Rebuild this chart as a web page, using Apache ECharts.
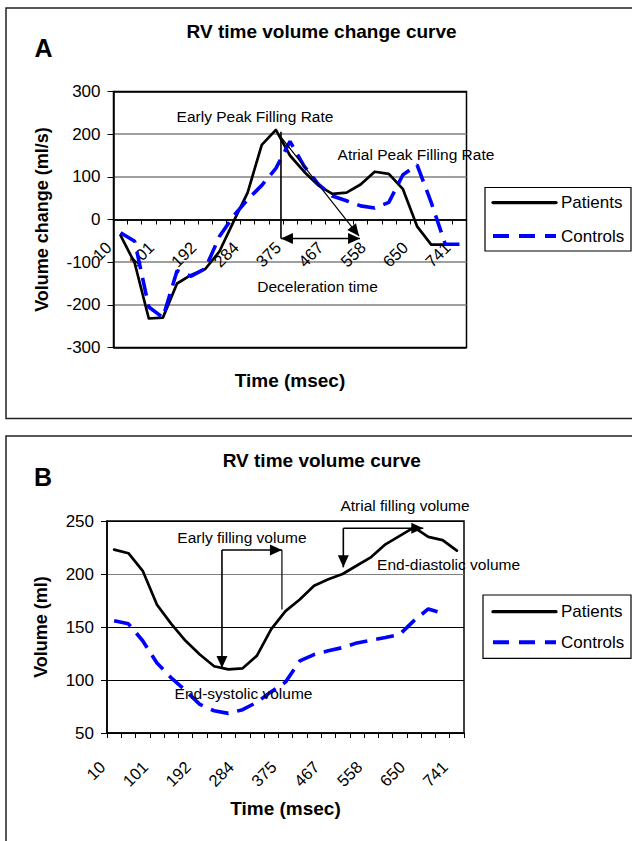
<!DOCTYPE html>
<html><head><meta charset="utf-8">
<script src="https://cdn.jsdelivr.net/npm/echarts@6/dist/echarts.min.js"></script>
<style>html,body{margin:0;padding:0;background:#fff}#c{width:632px;height:841px}</style>
</head><body><div id="c"></div>
<script>
// ---- data ----
const timeLabels = ['10','40','71','101','131','162','192','223','253','284','314','345','375','406','436','467','497','528','558','589','619','650','680','710','741'];
const patientsRate = [-37,-102,-232,-230,-150,-130,-116,-75,-5,63,175,210,150,112,80,60,63,82,112,107,71,-16,-59,-59,null];
const controlsRate = [-31,-51,-205,-230,-120,-133,-115,-40,8,47,80,120,183,125,83,55,44,32,27,40,105,128,40,-58,-58];
const patientsVolume = [223,219.6,203,171,153,137,124,113,110,111,123,148,165,176,189,195,200,208,216,228,236,244,235,232,222];
const controlsVolume = [156,153,137,116,102,90,77,71,68.5,72,79,89,98,118,124,127.5,130.6,135,137.5,140,143,156,167,163,null];
const rateTicks = [-300,-200,-100,0,100,200,300];
const volumeTicks = [50,100,150,200,250];
const seriesNames = ['Patients','Controls'];

const FONT = "'Liberation Sans', Arial, Helvetica, sans-serif";
const chart = echarts.init(document.getElementById('c'), null, {renderer:'svg'});

function xAxisCfg(grid, margin, nameGap){
  return {
    gridIndex: grid, type:'category', data: timeLabels, boundaryGap:true,
    axisLine:{show:true, onZero:false, lineStyle:{color:'#000', width:1.5}},
    axisTick:{show:true, interval:0, length:5, lineStyle:{color:'#000', width:1}},
    axisLabel:{interval:2, rotate:45, margin:margin, padding:[0,17,0,0], fontSize:16.5, color:'#000', fontFamily:FONT},
    splitLine:{show:false},
    name:'Time (msec)', nameLocation:'middle', nameGap:nameGap,
    nameTextStyle:{fontSize:19, fontWeight:'bold', color:'#000', fontFamily:FONT}
  };
}
function yAxisCfg(grid, ticks, name, nameGap, splitColors, splitWidth){
  return {
    gridIndex: grid, type:'value', min:ticks[0], max:ticks[ticks.length-1], interval:ticks[1]-ticks[0],
    axisLine:{show:true, lineStyle:{color:'#000', width:1.5}},
    axisTick:{show:true, length:6, lineStyle:{color:'#000'}},
    axisLabel:{fontSize:17, color:'#000', fontFamily:FONT, margin:13},
    splitLine:{show:true, lineStyle:{color:splitColors, width:splitWidth}},
    name:name, nameLocation:'middle', nameRotate:90, nameGap:nameGap,
    nameTextStyle:{fontSize:18, fontWeight:'bold', color:'#000', fontFamily:FONT}
  };
}
function lineSeries(name, data, xi, yi){
  const isP = name === 'Patients';
  return {
    name, type:'line', data, xAxisIndex:xi, yAxisIndex:yi, symbol:'none', animation:false,
    lineStyle: isP ? {color:'#000', width:2.7, cap:'round', join:'round'} : {color:'#0000ff', width:3.6, type:[18,9], cap:'butt'},
    itemStyle:{color: isP ? '#000' : '#0000ff'}
  };
}
function legendCfg(top, gap){
  return {
    data: [
      {name: seriesNames[0], lineStyle:{width:3.3}},
      {name: seriesNames[1], lineStyle:{width:4, type:[16,10]}}
    ],
    orient:'vertical', left:491, top:top, itemWidth:63, itemHeight:20, itemGap:gap,
    padding:0, selectedMode:false,
    itemStyle:{opacity:0},
    textStyle:{fontSize:17, color:'#000', fontFamily:FONT, lineHeight:20}
  };
}

chart.setOption({
  animation:false,
  backgroundColor:'#fff',
  grid:[
    {left:113.5, top:91.5, width:353, height:256, show:true, borderColor:'#000', borderWidth:1.5, backgroundColor:'transparent'},
    {left:107, top:521, width:357, height:212, show:true, borderColor:'#000', borderWidth:1.5, backgroundColor:'transparent'}
  ],
  xAxis:[ xAxisCfg(0, 13, 151), xAxisCfg(1, 19, 66) ],
  yAxis:[
    yAxisCfg(0, rateTicks, 'Volume change (ml/s)', 63, ['#000','#808080','#808080','#000','#808080','#808080','#000'], 1.5),
    yAxisCfg(1, volumeTicks, 'Volume (ml)', 57, ['#000','#000','#000','#808080','#000'], 1.2)
  ],
  legend:[ legendCfg(192.6, 13.5), legendCfg(601.7, 10.6) ],
  series:[
    lineSeries('Patients', patientsRate, 0, 0),
    lineSeries('Controls', controlsRate, 0, 0),
    lineSeries('Patients', patientsVolume, 1, 1),
    lineSeries('Controls', controlsVolume, 1, 1)
  ]
});

// Panel A: the time axis crosses the value axis at 0 (placed through the value scale)
const zeroY = chart.convertToPixel({yAxisIndex:0}, 0);
const bottomY = chart.convertToPixel({yAxisIndex:0}, rateTicks[0]);
chart.setOption({xAxis:[{offset: -(bottomY - zeroY)}, {}]});

// ---- annotations, anchored in data space (category index, value) ----
const annotationTexts = [
  {g:0, at:[9.52, 241.4], text:'Early Peak Filling Rate'},
  {g:0, at:[20.92, 151.2], text:'Atrial Peak Filling Rate'},
  {g:0, at:[13.95, -156.6], text:'Deceleration time'},
  {g:1, at:[20.37, 264.2], text:'Atrial filling volume'},
  {g:1, at:[8.95, 234.2], text:'Early filling volume'},
  {g:1, at:[23.42, 208.5], text:'End-diastolic volume'},
  {g:1, at:[9.06, 86.8], text:'End-systolic volume'}
];
const annotationLines = [
  {g:0, from:[11.36, 205.8], to:[11.36, -44.5]},
  {g:0, from:[11.36, -44.5], to:[16.96, -44.5], head0:true, head1:true},
  {g:0, from:[11.06, 205.8], to:[16.89, -38.7], head1:true, thin:true},
  {g:1, from:[7.55, 222.6], to:[7.55, 111.3], head1:true},
  {g:1, from:[7.55, 222.6], to:[11.75, 222.6], head1:true},
  {g:1, from:[11.75, 222.6], to:[11.75, 166.5], thin:true},
  {g:1, from:[16.05, 243.1], to:[16.05, 206.3], head1:true},
  {g:1, from:[16.05, 243.1], to:[21.65, 243.1], head1:true}
];

function P(g, xi, v){
  const i0 = Math.floor(xi);
  const a = chart.convertToPixel({gridIndex:g}, [i0, v]);
  const b = chart.convertToPixel({gridIndex:g}, [i0+1, v]);
  return [a[0] + (b[0]-a[0])*(xi-i0), a[1]];
}
function head(tip, from){
  const dx = tip[0]-from[0], dy = tip[1]-from[1];
  const L = Math.hypot(dx,dy) || 1; const ux = dx/L, uy = dy/L;
  const len = 12, hw = 5.5;
  const bx = tip[0]-ux*len, by = tip[1]-uy*len;
  return {type:'polygon', z:100, shape:{points:[tip, [bx-uy*hw, by+ux*hw], [bx+uy*hw, by-ux*hw]]}, style:{fill:'#000'}};
}

const graphics = [];
graphics.push({type:'rect', z:-10, shape:{x:6, y:8, width:700, height:410.5}, style:{fill:'none', stroke:'#222', lineWidth:1.5}});
graphics.push({type:'rect', z:-10, shape:{x:6, y:436, width:700, height:500}, style:{fill:'none', stroke:'#222', lineWidth:1.5}});
graphics.push({type:'rect', z:1, shape:{x:485, y:187.5, width:146, height:63.5}, style:{fill:'none', stroke:'#000', lineWidth:1.2}});
graphics.push({type:'rect', z:1, shape:{x:483, y:595, width:148, height:63.3}, style:{fill:'none', stroke:'#000', lineWidth:1.2}});
const titleStyle = {fill:'#000', fontFamily:FONT, fontWeight:'bold', align:'center', verticalAlign:'middle'};
graphics.push({type:'text', z:100, x:321.6, y:31.3, style:Object.assign({text:'RV time volume change curve', fontSize:19}, titleStyle)});
graphics.push({type:'text', z:100, x:321.8, y:460.7, style:Object.assign({text:'RV time volume curve', fontSize:19}, titleStyle)});
graphics.push({type:'text', z:100, x:43.5, y:48, style:Object.assign({text:'A', fontSize:25}, titleStyle)});
graphics.push({type:'text', z:100, x:43, y:477, style:Object.assign({text:'B', fontSize:25}, titleStyle)});

annotationTexts.forEach(a => {
  const p = P(a.g, a.at[0], a.at[1]);
  graphics.push({type:'text', z:100, x:p[0], y:p[1], style:{text:a.text, fill:'#000', fontSize:15.5, fontFamily:FONT, align:'center', verticalAlign:'middle'}});
});
annotationLines.forEach(l => {
  const a = P(l.g, l.from[0], l.from[1]);
  const b = P(l.g, l.to[0], l.to[1]);
  graphics.push({type:'line', z:100, shape:{x1:a[0], y1:a[1], x2:b[0], y2:b[1]}, style:{stroke:'#000', lineWidth: l.thin ? 1.2 : 1.6}});
  if (l.head1) graphics.push(head(b, a));
  if (l.head0) graphics.push(head(a, b));
});

chart.setOption({graphic: graphics});
</script>
</body></html>
